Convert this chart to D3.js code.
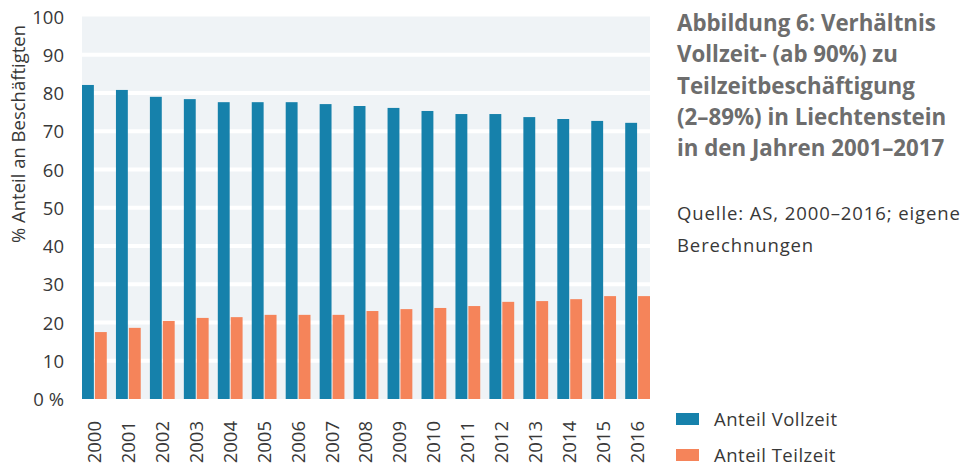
<!DOCTYPE html>
<html>
<head>
<meta charset="utf-8">
<script src="https://cdn.jsdelivr.net/npm/d3@7"></script>
<style>
  body { margin: 0; background: #fff; }
  svg { display: block; font-family: "Open Sans", "Noto Sans", sans-serif; }
</style>
</head>
<body>
<div class="canvas-container"></div>
<script>

var years = ["2000", "2001", "2002", "2003", "2004", "2005", "2006", "2007", "2008",
             "2009", "2010", "2011", "2012", "2013", "2014", "2015", "2016"];
var vollzeit = [82.1, 80.8, 79.0, 78.4, 77.6, 77.6, 77.6, 77.1, 76.6,
                76.1, 75.3, 74.5, 74.5, 73.7, 73.2, 72.7, 72.2];
var teilzeit = [17.5, 18.6, 20.4, 21.2, 21.4, 22.0, 22.0, 22.0, 23.0,
                23.5, 23.8, 24.3, 25.4, 25.6, 26.1, 26.9, 26.9];
var seriesNames = ["Anteil Vollzeit", "Anteil Teilzeit"];
var yTicks = [0, 10, 20, 30, 40, 50, 60, 70, 80, 90, 100];
var titleLines = ["Abbildung 6: Verhältnis", "Vollzeit- (ab 90%) zu", "Teilzeitbeschäftigung",
                  "(2–89%) in Liechtenstein", "in den Jahren 2001–2017"];
var sourceLines = ["Quelle: AS, 2000–2016; eigene", "Berechnungen"];

var svg, width, height, x, xSub, y, colors, plot;

width = 964;
height = 464;

svg = d3.select("div.canvas-container")
    .append("svg")
    .attr("width", width)
    .attr("height", height);

x = d3.scaleBand()
    .domain(years)
    .range([82, 650])
    .paddingInner(0.27)
    .paddingOuter(0);

xSub = d3.scaleBand()
    .domain([0, 1])
    .range([0, x.bandwidth()])
    .paddingInner(0.08);

y = d3.scaleLinear()
    .domain([0, 100])
    .range([399, 16.5]);

colors = ["#1681ab", "#f5845a"];

// background panel
svg.append("rect")
    .attr("x", 82)
    .attr("y", y(100))
    .attr("width", 650 - 82)
    .attr("height", y(0) - y(100))
    .attr("fill", "#eff3f6");

// white grid bands
svg.selectAll(".grid")
    .data(yTicks.filter(function (d) { return d > 0 && d < 100; }))
    .enter()
    .append("line")
    .attr("class", "grid")
    .attr("x1", 82)
    .attr("x2", 650)
    .attr("y1", function (d) { return y(d); })
    .attr("y2", function (d) { return y(d); })
    .attr("stroke", "#fff")
    .attr("stroke-width", 4);

plot = svg.append("g");

var groups = plot.selectAll(".year")
    .data(years)
    .enter()
    .append("g")
    .attr("class", "year")
    .attr("transform", function (d) { return "translate(" + x(d) + ",0)"; });

groups.selectAll("rect")
    .data(function (d, i) { return [vollzeit[i], teilzeit[i]]; })
    .enter()
    .append("rect")
    .attr("x", function (d, j) { return xSub(j); })
    .attr("width", xSub.bandwidth())
    .attr("y", function (d) { return y(d); })
    .attr("height", function (d) { return y(0) - y(d); })
    .attr("fill", function (d, j) { return colors[j]; });

// y axis
var yAxis = svg.append("g")
    .attr("transform", "translate(64,0)")
    .call(d3.axisLeft(y).tickValues(yTicks).tickSize(0).tickPadding(0)
        .tickFormat(function (d) { return d === 0 ? "0 %" : d; }));
yAxis.select(".domain").remove();
yAxis.selectAll("text")
    .attr("font-size", 18.5)
    .attr("font-family", "Open Sans")
    .attr("fill", "#383838")
    .attr("dy", "0.36em");

// x axis
var xAxis = svg.append("g")
    .attr("transform", "translate(0,421)")
    .call(d3.axisBottom(x).tickSize(0).tickPadding(0));
xAxis.select(".domain").remove();
xAxis.selectAll("text")
    .attr("font-size", 18.5)
    .attr("font-family", "Open Sans")
    .attr("fill", "#383838")
    .attr("transform", "rotate(-90)")
    .attr("text-anchor", "end")
    .attr("x", 0)
    .attr("y", 0)
    .attr("dx", 0)
    .attr("dy", "0.35em");

// y title
svg.append("text")
    .attr("transform", "translate(25,134) rotate(-90)")
    .attr("text-anchor", "middle")
    .attr("font-size", 18.5)
    .attr("fill", "#383838")
    .text("% Anteil an Beschäftigten");

// title
svg.append("g")
    .selectAll("text")
    .data(titleLines)
    .enter()
    .append("text")
    .attr("x", 677)
    .attr("y", function (d, i) { return 31 + i * 31.3; })
    .attr("font-size", 22.3)
    .attr("font-weight", "bold")
    .attr("fill", "#6d6d6d")
    .text(function (d) { return d; });

// source
svg.append("g")
    .selectAll("text")
    .data(sourceLines)
    .enter()
    .append("text")
    .attr("x", 677)
    .attr("y", function (d, i) { return 220 + i * 31.5; })
    .attr("font-size", 18.5)
    .attr("letter-spacing", 0.9)
    .attr("fill", "#383838")
    .text(function (d) { return d; });

// legend
var legend = svg.append("g")
    .selectAll("g")
    .data(seriesNames)
    .enter()
    .append("g")
    .attr("transform", function (d, i) { return "translate(676," + (413 + i * 36) + ")"; });

legend.append("rect")
    .attr("width", 23)
    .attr("height", 12)
    .attr("fill", function (d, i) { return colors[i]; });

legend.append("text")
    .attr("x", 38)
    .attr("y", 13)
    .attr("font-size", 18.5)
    .attr("letter-spacing", 0.5)
    .attr("fill", "#383838")
    .text(function (d) { return d; });

</script>
</body>
</html>
